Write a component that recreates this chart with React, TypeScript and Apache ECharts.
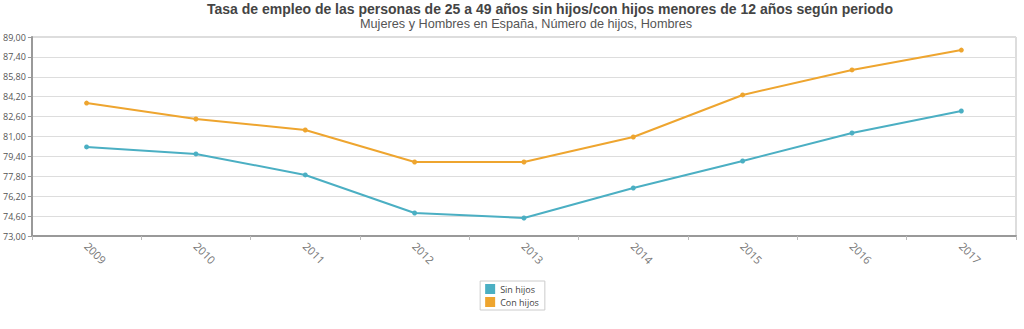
import React, { useEffect, useRef } from "react";
import * as echarts from "echarts";

const years = ["2009", "2010", "2011", "2012", "2013", "2014", "2015", "2016", "2017"];
const sinHijos = [80.16, 79.6, 77.91, 74.85, 74.45, 76.86, 79.03, 81.28, 83.05];
const conHijos = [83.69, 82.41, 81.52, 78.95, 78.95, 80.96, 84.34, 86.35, 87.95];
const titleText = "Tasa de empleo de las personas de 25 a 49 años sin hijos/con hijos menores de 12 años según periodo";
const subtitleText = "Mujeres y Hombres en España, Número de hijos, Hombres";

export default function App() {
  const ref = useRef<HTMLDivElement>(null);
  useEffect(() => {
    document.body.style.margin = "0";
    const chart = echarts.init(ref.current!, null, { renderer: "svg" });
    chart.setOption({
      animation: false,
      backgroundColor: "#fff",
      title: [
        {
          text: titleText,
          left: 207,
          top: 2,
          padding: [0, 0, 0, 0],
          textStyle: { fontFamily: "Liberation Sans", fontSize: 14, fontWeight: "bold", color: "#444" },
        },
        {
          text: subtitleText,
          left: 360,
          top: 17,
          padding: [0, 0, 0, 0],
          textStyle: { fontFamily: "Liberation Sans", fontSize: 12.7, fontWeight: "normal", color: "#555" },
        },
      ],
      legend: {
        orient: "vertical",
        left: "center",
        top: 281,
        borderColor: "#ccc",
        borderWidth: 1,
        padding: [3, 6, 3, 5],
        itemWidth: 10,
        itemHeight: 10,
        itemGap: 3,
        icon: "rect",
        textStyle: { fontFamily: "Open Sans", fontSize: 9, color: "#444" },
        data: ["Sin hijos", "Con hijos"],
      },
      grid: {
        left: 31,
        right: 8,
        top: 37,
        bottom: 93,
        show: true,
        borderColor: "#bbb",
        borderWidth: 1,
      },
      xAxis: {
        type: "category",
        data: years,
        boundaryGap: true,
        axisLine: { lineStyle: { color: "#999", width: 2 } },
        axisTick: { show: true, length: 4, lineStyle: { color: "#bbb" } },
        axisLabel: {
          rotate: -45,
          fontFamily: "Open Sans",
          fontSize: 11,
          color: "#777",
          margin: 8,
        },
      },
      yAxis: {
        type: "value",
        min: 73,
        max: 89,
        interval: 1.6,
        axisLine: { show: true, lineStyle: { color: "#999", width: 2 } },
        axisTick: { show: true, length: 4, lineStyle: { color: "#999" } },
        splitLine: { lineStyle: { color: "#ddd" } },
        axisLabel: {
          fontFamily: "Open Sans",
          fontSize: 9,
          color: "#555",
          margin: 6,
          formatter: (v: number) => v.toFixed(2).replace(".", ","),
        },
      },
      series: [
        {
          name: "Sin hijos",
          type: "line",
          data: sinHijos,
          symbol: "circle",
          symbolSize: 5,
          color: "#4BAFC3",
          lineStyle: { width: 2 },
        },
        {
          name: "Con hijos",
          type: "line",
          data: conHijos,
          symbol: "circle",
          symbolSize: 5,
          color: "#EEA52F",
          lineStyle: { width: 2 },
        },
      ],
    });
    return () => chart.dispose();
  }, []);
  return <div ref={ref} style={{ width: 1024, height: 329 }} />;
}
